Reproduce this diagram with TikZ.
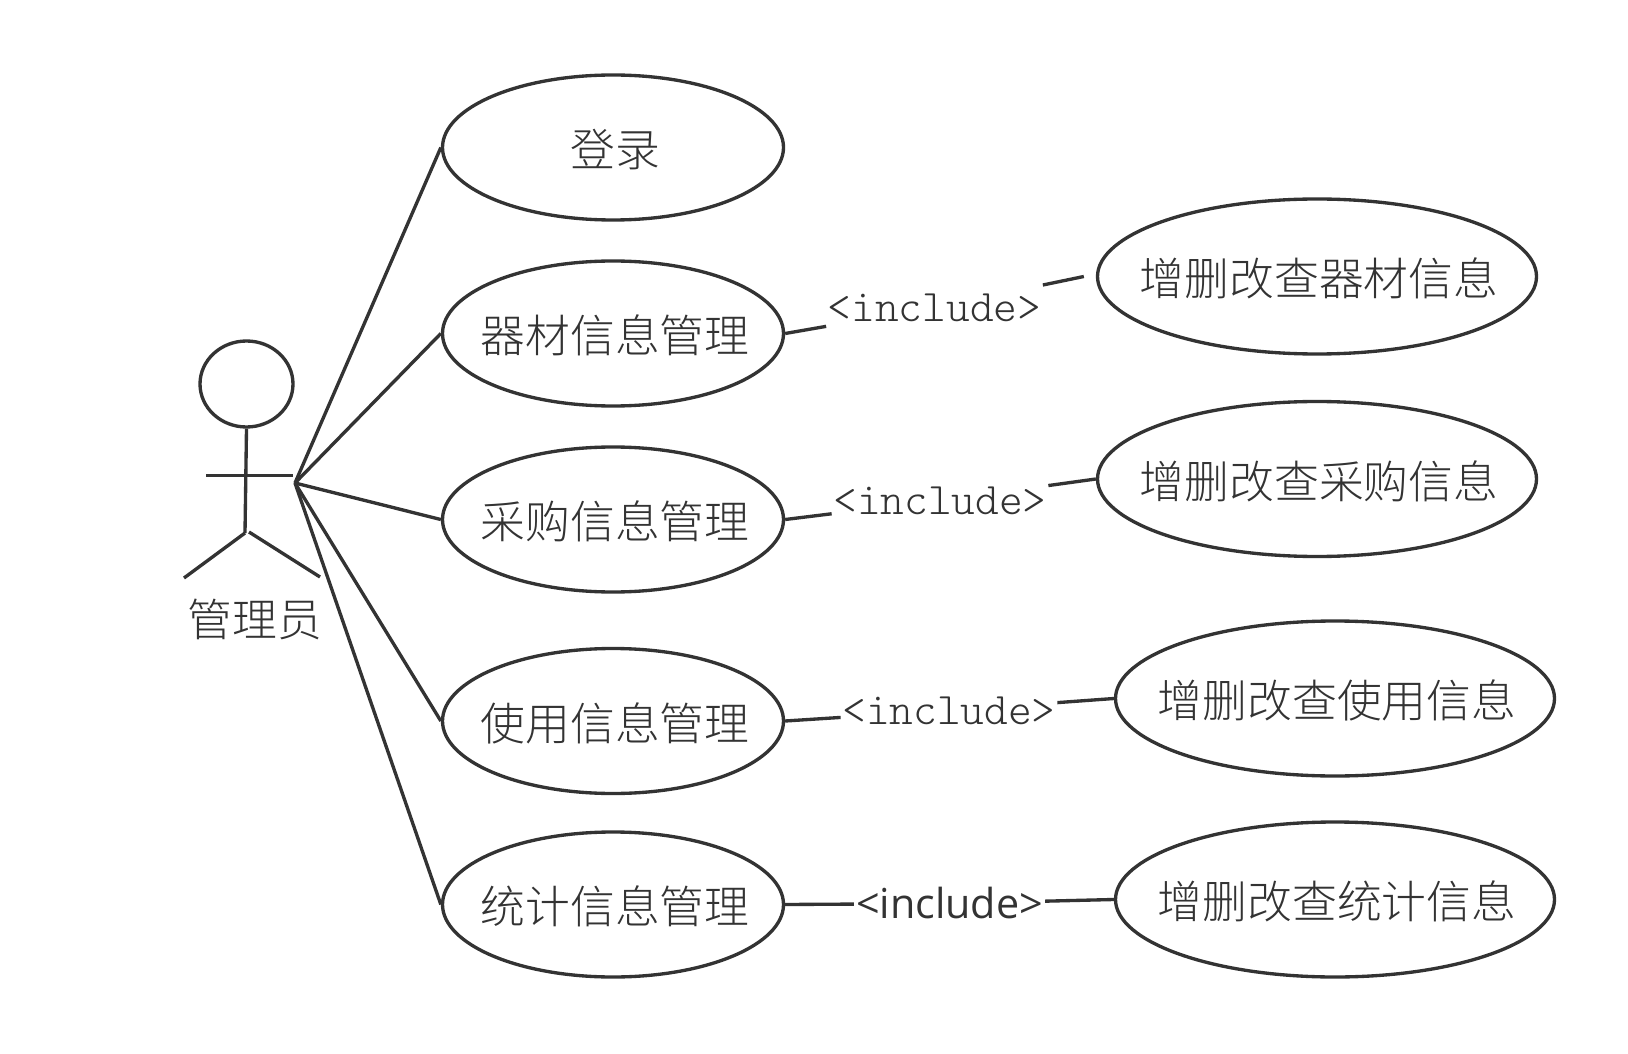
\documentclass[tikz,border=0pt]{standalone}
\usepackage{fontspec}
\newfontfamily\cjk{Noto Sans CJK SC}[UprightFont=* Light]
\newfontfamily\incsans{Open Sans}
\usetikzlibrary{shapes.geometric}
\definecolor{inkgray}{HTML}{333333}
\begin{document}
\begin{tikzpicture}[node distance=3.7cm, line width=1.9pt, color=inkgray,
        every node/.style={font=\fontsize{25.5}{30}\selectfont\cjk, text=inkgray},
        usecase/.style={draw, ellipse, inner xsep=-0.7cm, inner ysep=0pt, minimum width=6.82cm, minimum height=2.9cm, text height=24.8pt, text depth=3pt, execute at begin node={\hskip 0.08cm}},
        crudcase/.style={usecase, minimum width=8.78cm, minimum height=3.1cm},
        inclabel/.style={inner sep=0pt, minimum width=4.26cm, minimum height=1cm, font=\fontsize{25.7}{30}\selectfont\fontseries{l}\ttfamily}]
    \useasboundingbox (0,0) rectangle (32.56,-21.08);
    % actor
    \node[draw, ellipse, inner sep=0pt, minimum width=1.86cm, minimum height=1.72cm] (head) at (4.93,-7.68) {};
    \coordinate (hip) at (4.9,-10.66);
    \coordinate (hipr) at (4.98,-10.64);
    \coordinate (lhand) at (4.12,-9.51);
    \coordinate (rhand) at (5.86,-9.51);
    \coordinate (lfoot) at (3.68,-11.56);
    \coordinate (rfoot) at (6.4,-11.54);
    \coordinate (hub) at (5.9,-9.66);
    \node (admin) at (5.1,-12.38) {管理员};
    \draw (head.south) -- (hip);
    \draw (lhand) -- (rhand);
    \draw (hip) -- (lfoot);
    \draw (hipr) -- (rfoot);
    % left column
    \node[usecase] (login) at (12.26,-2.95) {登录};
    \node[usecase, below of=login, yshift=-0.02cm] (equip) {器材信息管理};
    \node[usecase, below of=equip, yshift=-0.02cm] (buy) {采购信息管理};
    \node[usecase, below of=buy, yshift=-0.33cm] (usage) {使用信息管理};
    \node[usecase, below of=usage, yshift=0.03cm] (stats) {统计信息管理};
    % right column
    \node[crudcase, right of=equip, xshift=10.38cm, yshift=1.14cm] (equipcrud) {增删改查器材信息};
    \node[crudcase, right of=buy, xshift=10.38cm, yshift=0.81cm] (buycrud) {增删改查采购信息};
    \node[crudcase, right of=usage, xshift=10.74cm, yshift=0.45cm] (usagecrud) {增删改查使用信息};
    \node[crudcase, right of=stats, xshift=10.74cm, yshift=0.1cm] (statscrud) {增删改查统计信息};
    % include labels
    \node[inclabel, right of=equip, xshift=2.73cm, yshift=0.52cm] (incequip) {<include>};
    \node[inclabel, right of=buy, xshift=2.84cm, yshift=0.38cm, minimum width=4.24cm] (incbuy) {<include>};
    \node[inclabel, right of=usage, xshift=3.02cm, yshift=0.21cm, minimum width=4.24cm] (incusage) {<include>};
    \node[inclabel, right of=stats, xshift=3.03cm, yshift=0.02cm, minimum width=3.76cm, font=\fontsize{23.5}{28}\selectfont\incsans] (incstats) {<include>};
    \coordinate (equipgap) at ([xshift=-0.24cm]equipcrud.west);
    % connectors
    \draw (hub) -- (login.west);
    \draw (hub) -- (equip.west);
    \draw (hub) -- (buy.west);
    \draw (hub) -- (usage.west);
    \draw (hub) -- (stats.west);
    \draw (equip.east) -- (incequip);
    \draw (incequip) -- (equipgap);
    \draw (buy.east) -- (incbuy);
    \draw (incbuy) -- (buycrud.west);
    \draw (usage.east) -- (incusage);
    \draw (incusage) -- (usagecrud.west);
    \draw (stats.east) -- (incstats);
    \draw (incstats) -- (statscrud.west);
\end{tikzpicture}
\end{document}
